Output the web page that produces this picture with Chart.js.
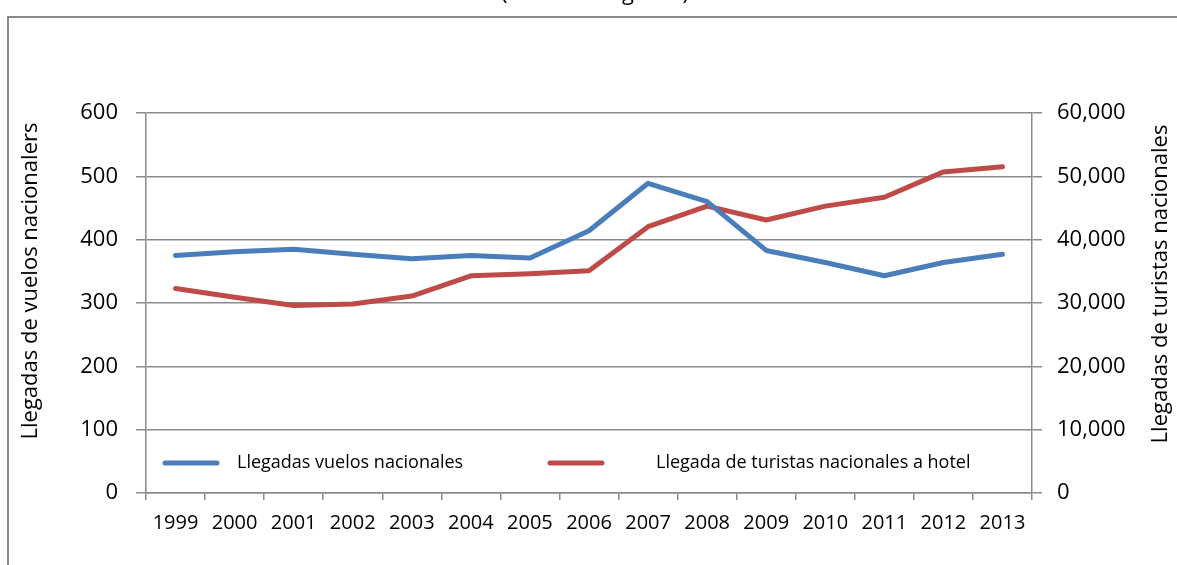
<!DOCTYPE html>
<html>
<head>
<meta charset="utf-8">
<script src="https://cdn.jsdelivr.net/npm/chart.js@4.4.1/dist/chart.umd.min.js"></script>
<style>
    html, body { margin: 0; padding: 0; background: #fff; overflow: hidden; }
    #frame { position: absolute; left: 7px; top: 16px; width: 1200px; height: 600px;
             border-left: 2px solid #8a8a8a; border-top: 2px solid #8a8a8a; }
    #wrap { position: absolute; left: 0; top: 0; width: 1177px; height: 565px; }
</style>
</head>
<body>
<div id="frame"></div>
<div id="wrap"><canvas id="chart"></canvas></div>
<script>
const chartTitle = '(Miles de llegadas)';
const years = ['1999', '2000', '2001', '2002', '2003', '2004', '2005', '2006',
               '2007', '2008', '2009', '2010', '2011', '2012', '2013'];
const vuelos = [375, 381, 385, 377, 370, 375, 371, 414, 489, 460, 383, 364, 343, 364, 377];
const turistas = [32300, 30900, 29600, 29850, 31100, 34300, 34600, 35100,
                  42050, 45300, 43100, 45300, 46700, 50700, 51500];
const leftTitle = 'Llegadas de vuelos nacionalers';
const rightTitle = 'Llegadas de turistas nacionales';

const gridColor = '#8a8a8a';
const fontName = '"Open Sans", sans-serif';

// legend drawn inside the plot, plus the cut-off title and the axis titles
const extras = {
    id: 'extras',
    afterDraw(chart) {
        const ctx = chart.ctx;
        ctx.save();
        ctx.fillStyle = '#000';

        ctx.font = '22px ' + fontName;
        ctx.textAlign = 'center';
        ctx.textBaseline = 'alphabetic';
        ctx.fillText(chartTitle, 595, 0);

        ctx.font = '22px ' + fontName;
        ctx.textBaseline = 'middle';
        ctx.translate(31, 281);
        ctx.rotate(-Math.PI / 2);
        ctx.fillText(leftTitle, 0, 0);
        ctx.setTransform(1, 0, 0, 1, 0, 0);
        ctx.translate(1161, 284);
        ctx.rotate(-Math.PI / 2);
        ctx.fillText(rightTitle, 0, 0);
        ctx.setTransform(1, 0, 0, 1, 0, 0);

        const spots = [{ x: 165, text: 237 }, { x: 550, text: 656 }];
        const y = 463;
        ctx.font = '18px ' + fontName;
        ctx.textAlign = 'left';
        chart.data.datasets.forEach((ds, i) => {
            ctx.strokeStyle = ds.borderColor;
            ctx.lineWidth = 5;
            ctx.lineCap = 'round';
            ctx.beginPath();
            ctx.moveTo(spots[i].x, y);
            ctx.lineTo(spots[i].x + 52, y);
            ctx.stroke();
            ctx.fillText(ds.label, spots[i].text, y);
        });
        ctx.restore();
    }
};

const ctx = document.getElementById('chart').getContext('2d');
new Chart(ctx, {
    type: 'line',
    data: {
        labels: years,
        datasets: [{
            label: 'Llegadas vuelos nacionales',
            data: vuelos,
            yAxisID: 'y',
            borderColor: '#4a7ebb',
            borderWidth: 5,
            pointRadius: 0,
            borderCapStyle: 'round',
            borderJoinStyle: 'round'
        }, {
            label: 'Llegada de turistas nacionales a hotel',
            data: turistas,
            yAxisID: 'y2',
            borderColor: '#be4b48',
            borderWidth: 5,
            pointRadius: 0,
            borderCapStyle: 'round',
            borderJoinStyle: 'round'
        }]
    },
    options: {
        responsive: true,
        maintainAspectRatio: false,
        animation: false,
        layout: { padding: { top: 113, left: 0, right: 0, bottom: 0 } },
        plugins: { legend: { display: false }, tooltip: { enabled: false } },
        scales: {
            x: {
                offset: true,
                grid: { offset: true, drawOnChartArea: false, tickLength: 7, color: gridColor, lineWidth: 1.5 },
                border: { color: gridColor, width: 1.5 },
                ticks: { color: '#000', padding: 11, font: { family: fontName, size: 20 }, maxRotation: 0, autoSkip: false },
                afterFit: s => { s.height = 72; }
            },
            y: {
                position: 'left',
                min: 0, max: 600,
                grid: { color: gridColor, lineWidth: 1.5, tickLength: 10 },
                border: { color: gridColor, width: 1.5 },
                ticks: { stepSize: 100, color: '#000', padding: 18, font: { family: fontName, size: 22 } },
                afterFit: s => { s.width = 146; }
            },
            y2: {
                position: 'right',
                min: 0, max: 60000,
                grid: { drawOnChartArea: false, color: gridColor, lineWidth: 1.5, tickLength: 10 },
                border: { color: gridColor, width: 1.5 },
                ticks: { stepSize: 10000, color: '#000', padding: 15, font: { family: fontName, size: 22 },
                         callback: v => v.toLocaleString('en-US') },
                afterFit: s => { s.width = 145; }
            }
        }
    },
    plugins: [extras]
});
</script>
</body>
</html>
